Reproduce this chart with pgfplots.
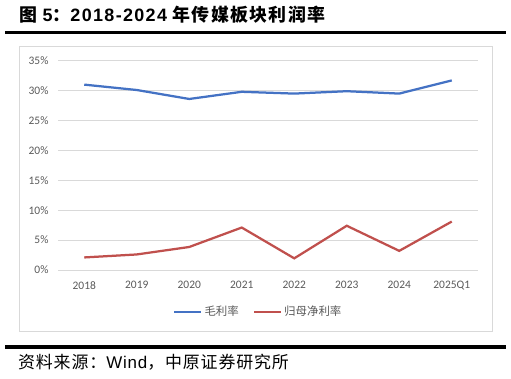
\documentclass[border=0pt]{standalone}
\usepackage{fontspec}
\usepackage{pgfplots}
\pgfplotsset{compat=1.18}
\setmainfont{Liberation Sans}
\newfontfamily\cjk{Noto Sans CJK SC}
\newfontfamily\cjkt[LetterSpace=7.5]{Noto Sans CJK SC}
\newfontfamily\latt[LetterSpace=7.5]{Liberation Sans}
\newfontfamily\cjks[LetterSpace=5]{Noto Sans CJK SC}
\newfontfamily\lats[LetterSpace=5]{Liberation Sans}
\newfontfamily\chartfont{Carlito}
\definecolor{gm}{HTML}{4472C4}
\definecolor{nm}{HTML}{C0504D}
\definecolor{gridc}{HTML}{D9D9D9}
\definecolor{tickc}{HTML}{595959}
\begin{document}
\begin{tikzpicture}[x=1bp,y=1bp]
\useasboundingbox (0,0) rectangle (511,378);
% title
\node[anchor=west,inner sep=0pt] at (19,363) {\fontsize{18}{21}\selectfont\bfseries\cjkt 图\ {\latt\bfseries 5}：{\latt\bfseries 2018-2024} 年传媒板块利润率};
\draw[line width=3.2bp,black] (5,345.5) -- (506,345.5);
\draw[line width=3.2bp,black] (5,31) -- (506,31);
% frame
\draw[gridc,line width=1bp] (19,47) rectangle (492,332);
% source
\node[anchor=west,inner sep=0pt] at (18,16) {\fontsize{17}{20}\selectfont\cjks 资料来源：{\lats Wind}，中原证券研究所};
\begin{axis}[
  at={(58bp,108bp)}, anchor=south west,
  scale only axis, width=420bp, height=209.3bp,
  xmin=-0.5, xmax=7.5, ymin=0, ymax=35,
  axis line style={draw=none},
  major tick length=0pt,
  ymajorgrids, grid style={gridc, line width=1bp},
  xtick={0,...,7},
  xticklabels={2018,2019,2020,2021,2022,2023,2024,2025Q1},
  ytick={0,5,...,35},
  yticklabel={\pgfmathprintnumber{\tick}\%},
  /pgf/number format/assume math mode=true,
  tick label style={font=\chartfont\fontsize{11.5}{13}\selectfont, text=tickc},
  xticklabel style={yshift=-8bp},
  yticklabel style={xshift=-6bp},
  legend columns=2,
  legend style={at={(0.477,-0.2)}, anchor=center, draw=none, fill=none,
    font=\cjk\fontsize{11.5}{13}\selectfont, text=tickc,
    /tikz/every even column/.append style={column sep=12bp}},
  legend image code/.code={\draw[#1] (0bp,0bp) -- (27bp,0bp);},
]
\addplot[gm, line width=2.25bp] coordinates {(0,31.0) (1,30.1) (2,28.6) (3,29.8) (4,29.5) (5,29.9) (6,29.5) (7,31.7)};
\addlegendentry{毛利率}
\addplot[nm, line width=2.25bp] coordinates {(0,2.1) (1,2.6) (2,3.85) (3,7.1) (4,1.95) (5,7.4) (6,3.2) (7,8.1)};
\addlegendentry{归母净利率}
\end{axis}
\end{tikzpicture}
\end{document}
